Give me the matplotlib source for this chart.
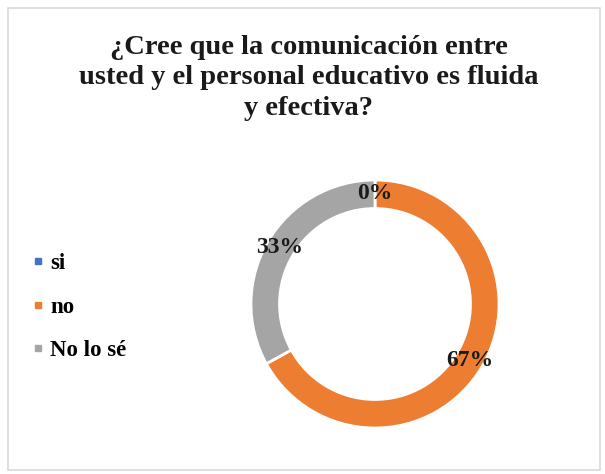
import matplotlib.pyplot as plt
from matplotlib.patches import Rectangle
from matplotlib.lines import Line2D

labels = ['si', 'no', 'No lo sé']
values = [0, 67, 33]
colors = ['#4472C4', '#ED7D31', '#A5A5A5']
title = '¿Cree que la comunicación entre\nusted y el personal educativo es fluida\ny efectiva?'

plt.rcParams['font.family'] = ['Liberation Serif', 'DejaVu Serif']

W, H = 605, 474
fig = plt.figure(figsize=(W / 100, H / 100), dpi=100)

# light chart border
fig.patches.append(Rectangle((8 / W, 4 / H), 592 / W, 462 / H, transform=fig.transFigure,
                             fill=False, edgecolor='#d9d9d9', linewidth=1.2))

fig.text(309 / W, 1 - 78 / H, title, ha='center', va='center', fontsize=20.5,
         fontweight='bold', linespacing=1.27, color='#1a1a1a')

# donut
cx, cy, r = 375, 304, 124
ax = fig.add_axes([(cx - r) / W, (H - cy - r) / H, 2 * r / W, 2 * r / H])
wedges, _, autotexts = ax.pie(values, colors=colors, startangle=90, counterclock=False,
                              autopct='%1.0f%%', pctdistance=0.89,
                              wedgeprops=dict(width=0.23, edgecolor='white', linewidth=2))
for t in autotexts:
    t.set_fontsize(17)
    t.set_fontweight('bold')
    t.set_color('#1a1a1a')
ax.set_xlim(-1, 1)
ax.set_ylim(-1, 1)
ax.set_aspect('equal')
ax.axis('off')

handles = [Line2D([], [], marker='s', linestyle='none', markersize=5, color=c) for c in colors]
fig.legend(handles, labels, loc='center left', bbox_to_anchor=(8 / W, 1 - 307 / H),
           frameon=False, prop={'size': 16.5, 'weight': 'bold'}, labelspacing=1.0,
           handletextpad=0.15, handlelength=0.8)

fig.savefig('out.png', dpi=100)
